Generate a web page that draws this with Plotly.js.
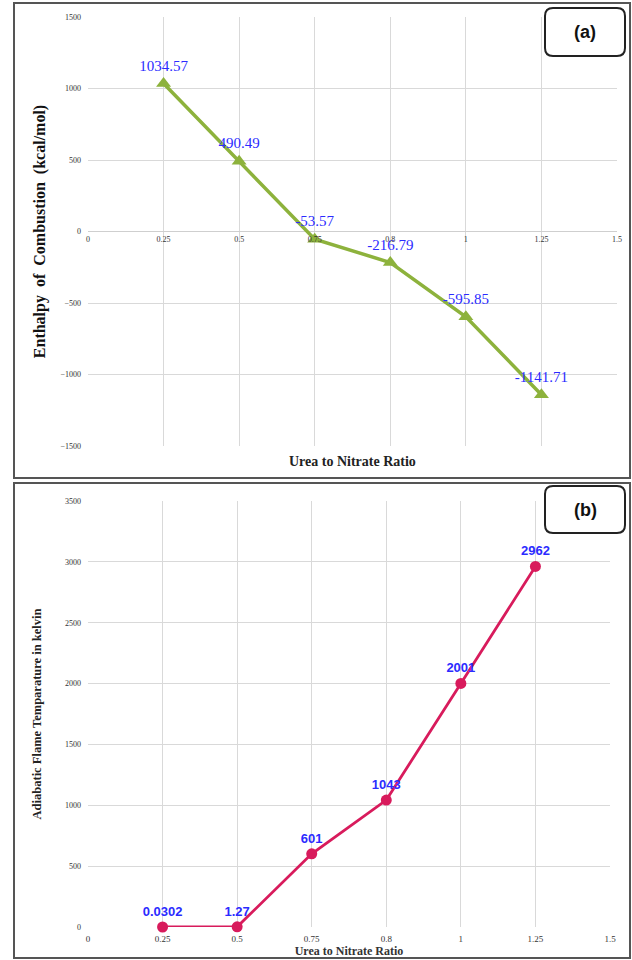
<!DOCTYPE html>
<html><head><meta charset="utf-8">
<script src="https://cdn.plot.ly/plotly-3.0.1.min.js"></script>
<style>html,body{margin:0;padding:0;background:#fff}#chart{width:632px;height:960px}</style>
</head><body><div id="chart"></div>
<script>
// ---- data ----
const ratioTicks = ['0','0.25','0.5','0.75','0.8','1','1.25','1.5'];
const ratios = ['0.25','0.5','0.75','0.8','1','1.25'];
const enthalpy = [1034.57, 490.49, -53.57, -216.79, -595.85, -1141.71];
const enthalpyLabels = ['1034.57','490.49','-53.57','-216.79','-595.85','-1141.71'];
const flameTemp = [0.0302, 1.27, 601, 1043, 2001, 2962];
const flameLabels = ['0.0302','1.27','601','1043','2001','2962'];
const yTicksA = [-1500,-1000,-500,0,500,1000,1500];
const yTicksB = [0,500,1000,1500,2000,2500,3000,3500];

// ---- helpers (pixel -> paper) ----
const W = 632, H = 960;
const px = x => x / W;
const py = y => 1 - y / H;
function roundRect(x0, y0, x1, y1, r) {
  const X0 = px(x0), X1 = px(x1), Y0 = py(y0), Y1 = py(y1);
  const rx = r / W, ry = r / H;
  return `M${X0+rx},${Y0} L${X1-rx},${Y0} Q${X1},${Y0} ${X1},${Y0-ry} L${X1},${Y1+ry} Q${X1},${Y1} ${X1-rx},${Y1} L${X0+rx},${Y1} Q${X0},${Y1} ${X0},${Y1+ry} L${X0},${Y0-ry} Q${X0},${Y0} ${X0+rx},${Y0} Z`;
}

const serif = 'Liberation Serif, Times New Roman, serif';
const sans = 'Liberation Sans, Arial, sans-serif';
const grid = '#d9d9d9';
const tickCol = '#333';

const traceA = {
  x: ratios, y: enthalpy, xaxis: 'x', yaxis: 'y',
  type: 'scatter', mode: 'lines+markers+text',
  text: enthalpyLabels, textposition: 'top center',
  textfont: {family: serif, size: 15, color: '#2b2bff'},
  line: {color: '#8db23c', width: 3.5},
  marker: {symbol: 'triangle-up', size: 13, color: '#8db23c'},
  cliponaxis: false, hoverinfo: 'x+y', showlegend: false
};
const traceB = {
  x: ratios, y: flameTemp, xaxis: 'x2', yaxis: 'y2',
  type: 'scatter', mode: 'lines+markers+text',
  text: flameLabels, textposition: 'top center',
  textfont: {family: sans, size: 13, color: '#2b2bff', weight: 'bold'},
  line: {color: '#d81b5c', width: 2.8},
  marker: {symbol: 'circle', size: 11, color: '#d81b5c'},
  cliponaxis: false, hoverinfo: 'x+y', showlegend: false
};

const layout = {
  width: W, height: H,
  margin: {l: 0, r: 0, t: 0, b: 0},
  paper_bgcolor: '#fff', plot_bgcolor: '#fff',
  showlegend: false,
  xaxis: {
    type: 'category', categoryorder: 'array', categoryarray: ratioTicks,
    tickmode: 'array', tickvals: ratioTicks, ticktext: ratioTicks,
    range: [0, 7], domain: [px(88), px(617)],
    anchor: 'free', position: py(231),
    showgrid: true, gridcolor: grid, gridwidth: 1,
    showline: false, ticks: '', ticklabelstandoff: 2,
    tickfont: {family: serif, size: 8, color: tickCol}, fixedrange: true
  },
  yaxis: {
    range: [-1500, 1500], domain: [py(446), py(17)], anchor: 'x',
    tickmode: 'array', tickvals: yTicksA,
    showgrid: true, gridcolor: grid, gridwidth: 1,
    zeroline: true, zerolinecolor: '#cfcfcf', zerolinewidth: 1.5,
    showline: false, ticks: '', ticklabelstandoff: 6,
    tickfont: {family: serif, size: 8, color: tickCol},
    title: {text: 'Enthalpy  of  Combustion  (kcal/mol)', standoff: 10,
            font: {family: serif, size: 16, color: '#111', weight: 'bold'}},
    fixedrange: true
  },
  xaxis2: {
    type: 'category', categoryorder: 'array', categoryarray: ratioTicks,
    tickmode: 'array', tickvals: ratioTicks, ticktext: ratioTicks,
    range: [0, 7], domain: [px(88), px(610)], anchor: 'y2',
    showgrid: true, gridcolor: grid, gridwidth: 1,
    showline: false, ticks: '', ticklabelstandoff: 5,
    tickfont: {family: serif, size: 9, color: tickCol},
    title: {text: 'Urea to Nitrate Ratio', standoff: 1,
            font: {family: serif, size: 12, color: '#333', weight: 'bold'}},
    fixedrange: true
  },
  yaxis2: {
    range: [0, 3500], domain: [py(927), py(501)], anchor: 'x2',
    tickmode: 'array', tickvals: yTicksB,
    showgrid: true, gridcolor: grid, gridwidth: 1,
    zeroline: false, showline: false, ticks: '', ticklabelstandoff: 6,
    tickfont: {family: serif, size: 8, color: tickCol},
    title: {text: 'Adiabatic Flame Temparature in kelvin', standoff: 20,
            font: {family: serif, size: 12.5, color: '#222', weight: 'bold'}},
    fixedrange: true
  },
  shapes: [
    {type: 'rect', xref: 'paper', yref: 'paper', x0: px(14), x1: px(630), y0: py(478), y1: py(3),
     line: {color: '#555', width: 2}, layer: 'above'},
    {type: 'rect', xref: 'paper', yref: 'paper', x0: px(14), x1: px(630), y0: py(958), y1: py(483),
     line: {color: '#555', width: 2}, layer: 'above'},
    {type: 'path', xref: 'paper', yref: 'paper', path: roundRect(545, 8, 625, 56, 8),
     line: {color: '#222', width: 2}, fillcolor: '#fff', layer: 'above'},
    {type: 'path', xref: 'paper', yref: 'paper', path: roundRect(545, 486, 625, 533, 8),
     line: {color: '#222', width: 2}, fillcolor: '#fff', layer: 'above'}
  ],
  annotations: [
    {xref: 'paper', yref: 'paper', x: px(352), y: py(461), text: 'Urea to Nitrate Ratio',
     showarrow: false, xanchor: 'center', yanchor: 'middle',
     font: {family: serif, size: 14, color: '#222', weight: 'bold'}},
    {xref: 'paper', yref: 'paper', x: px(585), y: py(32), text: '(a)',
     showarrow: false, xanchor: 'center', yanchor: 'middle',
     font: {family: sans, size: 18, color: '#111', weight: 'bold'}},
    {xref: 'paper', yref: 'paper', x: px(585), y: py(510), text: '(b)',
     showarrow: false, xanchor: 'center', yanchor: 'middle',
     font: {family: sans, size: 18, color: '#111', weight: 'bold'}}
  ]
};

Plotly.newPlot('chart', [traceA, traceB], layout, {displayModeBar: false, staticPlot: true});
</script>
</body></html>
